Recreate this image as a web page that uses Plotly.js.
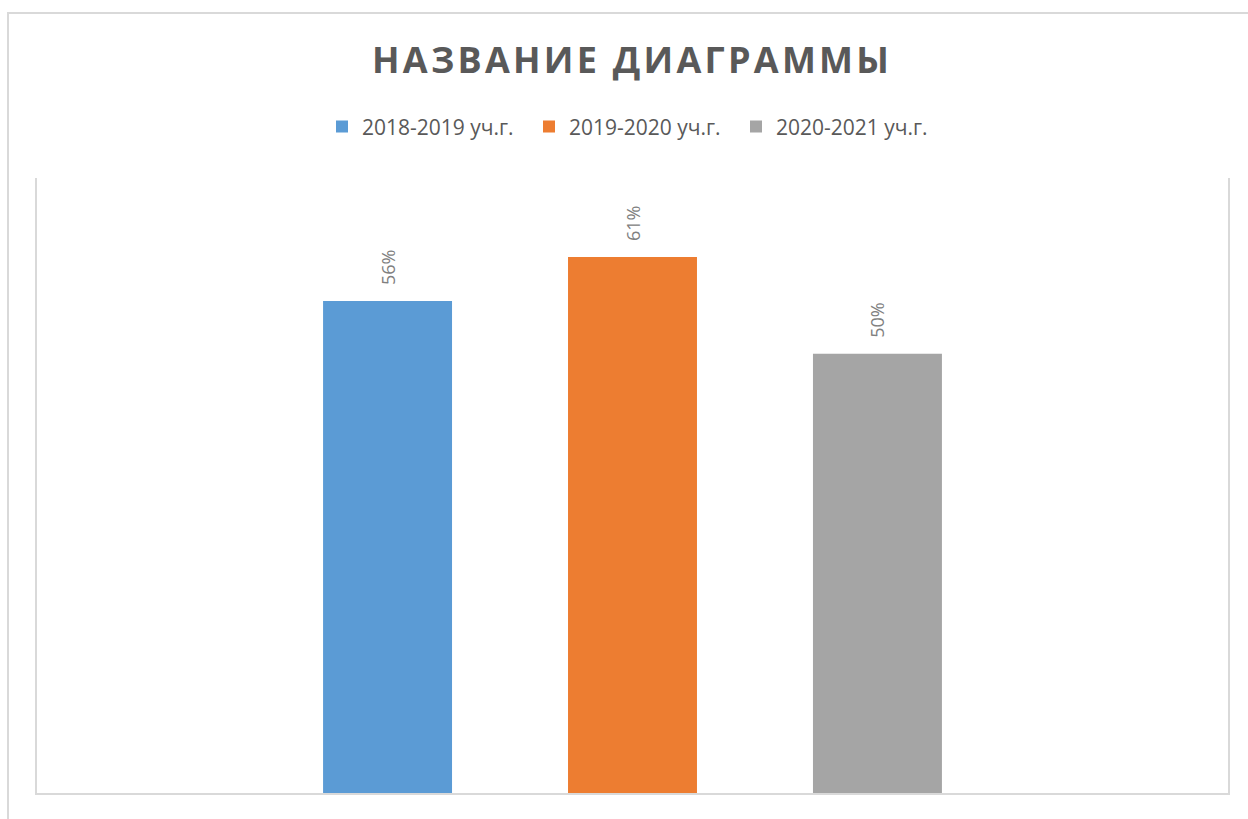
<!DOCTYPE html>
<html>
<head>
<meta charset="utf-8">
<script src="https://cdn.plot.ly/plotly-3.0.1.min.js"></script>
<style>
  html, body { margin: 0; padding: 0; background: #ffffff; overflow: hidden; }
  #wrap { position: relative; width: 1248px; height: 819px; overflow: hidden; }
  #frame { position: absolute; left: 7px; top: 12px; width: 1300px; height: 900px;
           border-left: 2px solid #d9d9d9; border-top: 2px solid #d9d9d9; pointer-events: none; }
  #chart { position: absolute; left: 0; top: 0; width: 1248px; height: 819px; }
  .gtitle { letter-spacing: 3.25px; }
</style>
</head>
<body>
<div id="wrap">
  <div id="chart"></div>
  <div id="frame"></div>
</div>
<script>
const chartTitle = 'НАЗВАНИЕ ДИАГРАММЫ';
const categories = ['1'];
const seriesNames = ['2018-2019 уч.г.', '2019-2020 уч.г.', '2020-2021 уч.г.'];
const seriesValues = [[0.56], [0.61], [0.50]];
const seriesColors = ['#5B9BD5', '#ED7D31', '#A5A5A5'];

const traces = seriesNames.map((name, i) => ({
  type: 'bar',
  name: name,
  x: categories,
  y: seriesValues[i],
  marker: { color: seriesColors[i] },
  texttemplate: '%{y:.0%}',
  textposition: 'outside',
  textangle: -90,
  cliponaxis: false,
  outsidetextfont: { family: 'Open Sans', size: 18, color: '#808080' },
  hoverinfo: 'none'
}));

const layout = {
  width: 1248,
  height: 819,
  margin: { l: 37, r: 20, t: 178, b: 26, pad: 0 },
  paper_bgcolor: 'rgba(0,0,0,0)',
  plot_bgcolor: '#ffffff',
  title: {
    text: chartTitle,
    font: { family: 'Open Sans', size: 36, color: '#595959', weight: 700 },
    x: 0.5065, xanchor: 'center',
    y: 1 - 60 / 819, yanchor: 'middle', yref: 'container'
  },
  barmode: 'group',
  bargap: 0.383,
  bargroupgap: 0.4735,
  showlegend: true,
  legend: {
    orientation: 'h',
    x: 0.5, xanchor: 'center',
    y: 1.083, yanchor: 'middle',
    entrywidth: 162,
    font: { family: 'Open Sans', size: 21, color: '#595959' },
    itemclick: false, itemdoubleclick: false
  },
  xaxis: {
    type: 'category',
    showticklabels: false,
    ticks: '',
    showgrid: false,
    zeroline: false,
    showline: true,
    linecolor: '#d9d9d9',
    linewidth: 2
  },
  yaxis: {
    range: [0, 0.7],
    showticklabels: false,
    ticks: '',
    showgrid: false,
    zeroline: false,
    showline: true,
    mirror: true,
    linecolor: '#d9d9d9',
    linewidth: 2
  }
};

Plotly.newPlot('chart', traces, layout, { displayModeBar: false, staticPlot: true }).then(gd => {
  // lift the value labels a little above the bars, as in the reference
  gd.querySelectorAll('text.bartext').forEach(t => {
    const tr = t.getAttribute('transform') || '';
    t.setAttribute('transform', 'translate(0,-13) ' + tr);
  });
});
</script>
</body>
</html>
